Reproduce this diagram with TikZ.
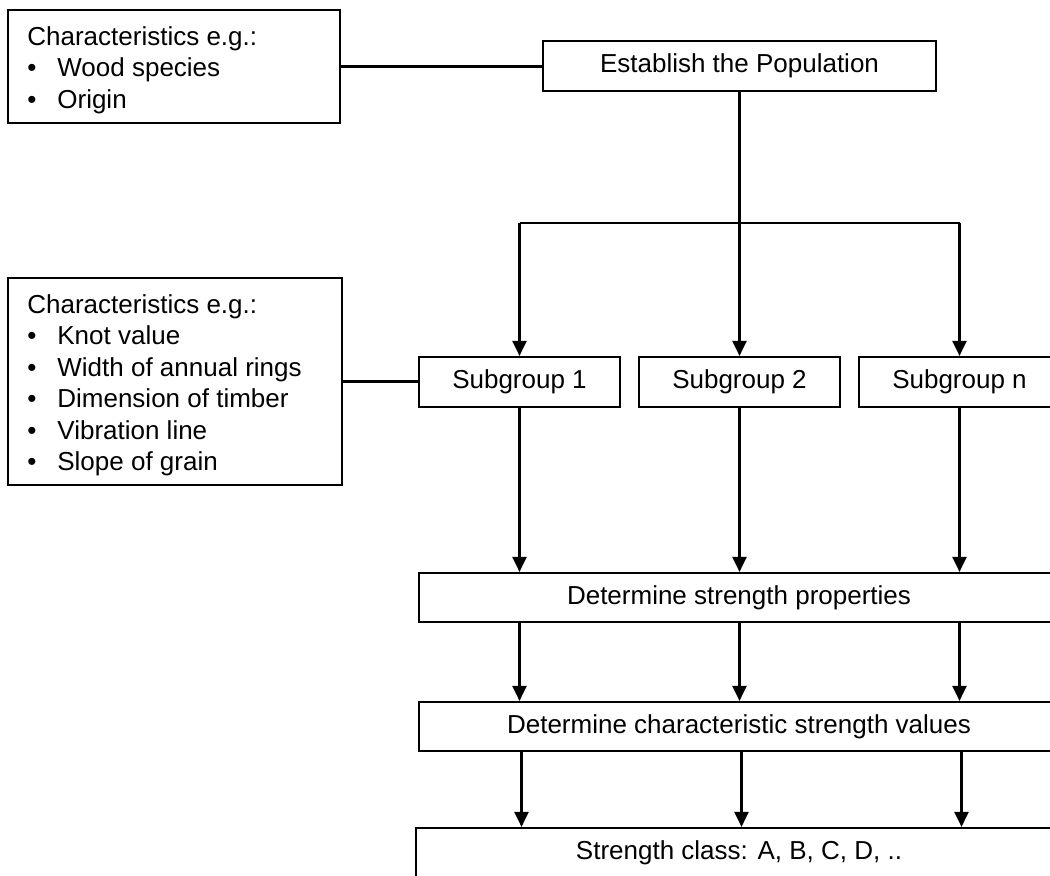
\documentclass[tikz,border=0pt]{standalone}
\usepackage{fontspec}
\setmainfont{Liberation Sans}
\usetikzlibrary{arrows.meta}
\newcommand\bul{\makebox[15pt][l]{•}}
\begin{document}
\begin{tikzpicture}[x=0.5pt,y=-0.5pt,
  txt/.style={font=\fontsize{13}{15.75}\selectfont},
  box/.style={draw, line width=1.1pt, inner sep=0pt, txt},
  ln/.style={line width=1.1pt},
  arr/.style={line width=1.1pt, -{Triangle[length=7.5pt,width=7pt]}},
  lbl/.style={anchor=base west, inner sep=0pt, txt}]
\useasboundingbox (0,0) rectangle (1050,875);
% left characteristic boxes
\node[box, minimum width=166pt, minimum height=56.5pt] (c1) at (174,66.5) {};
\node[lbl] (c1t) at (27,45) {\begin{tabular}[t]{@{}l@{}}Characteristics e.g.:\\ \bul Wood species\\ \bul Origin\end{tabular}};
\node[box, minimum width=167pt, minimum height=103.5pt] (c2) at (175,381.5) {};
\node[lbl] (c2t) at (27,313) {\begin{tabular}[t]{@{}l@{}}Characteristics e.g.:\\ \bul Knot value\\ \bul Width of annual rings\\ \bul Dimension of timber\\ \bul Vibration line\\ \bul Slope of grain\end{tabular}};
% main flow
\node[box, minimum width=196.5pt, minimum height=25pt] (est) at (739.5,66) {Establish the Population};
\node[box, minimum width=100.5pt, minimum height=25pt] (sub1) at (519.5,382) {Subgroup 1};
\node[box, minimum width=100.5pt, minimum height=25pt] (sub2) at (739.5,382) {Subgroup 2};
\node[box, minimum width=100.5pt, minimum height=25pt] (subn) at (959.5,382) {Subgroup n};
\node[box, minimum width=320pt, minimum height=24.5pt] (dsp) at (739,597.5) {Determine strength properties};
\node[box, minimum width=320pt, minimum height=24.5pt] (dcsv) at (739,726.5) {Determine characteristic strength values};
\node[box, minimum width=323pt, minimum height=25pt] (sc) at (739,853) {Strength class: A, B, C, D, ..};
% connectors
\draw[ln] (c1.east) -- (c1.east -| est.west);
\draw[ln] (c2.east) -- (c2.east -| sub1.west);
\coordinate (br) at (739.5,223);
\draw[line width=1.5pt] (est.south) -- (br);
\draw[ln] (sub1.north |- br) -- (subn.north |- br);
\draw[arr] (sub1.north |- br) -- (sub1.north);
\draw[arr] (br) -- (sub2.north);
\draw[arr] (subn.north |- br) -- (subn.north);
\foreach \s in {sub1,sub2,subn}{
  \draw[arr] (\s.south) -- (\s.south |- dsp.north);
  \draw[arr] (\s.south |- dsp.south) -- (\s.south |- dcsv.north);
  \draw[arr] ([xshift=1pt]\s.south |- dcsv.south) -- ([xshift=1pt]\s.south |- sc.north);
}
\end{tikzpicture}
\end{document}
